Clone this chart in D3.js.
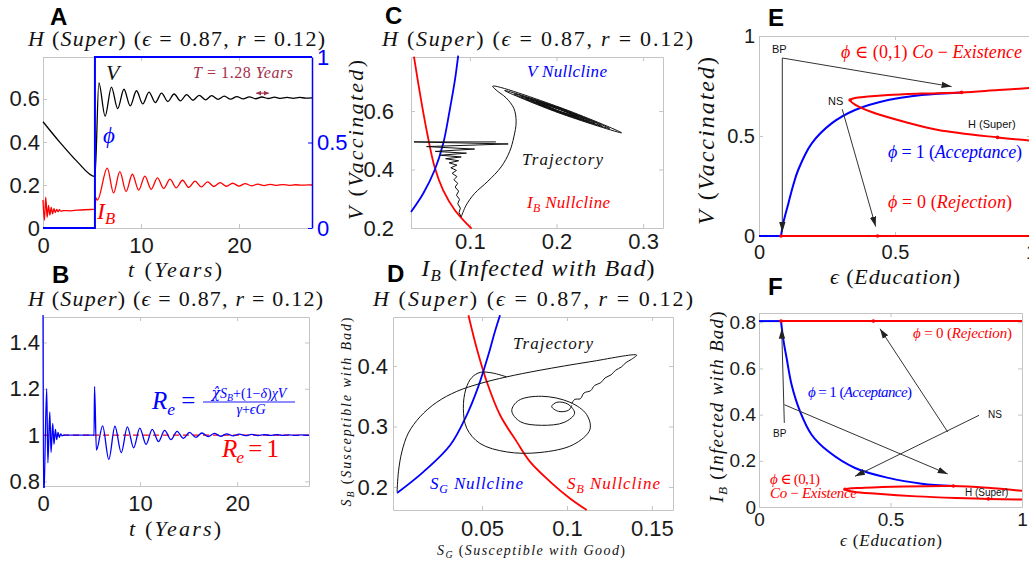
<!DOCTYPE html>
<html><head><meta charset="utf-8">
<script src="https://cdn.jsdelivr.net/npm/d3@7"></script>
<style>
body{margin:0;background:#fff;}
svg{display:block;}
text{white-space:pre;}
</style></head><body>
<script>
// ---------------- Panel A: time series (t in years) ----------------
const aTimeV = [0, 1.73, 3.44, 5.30, 5.70, 6.34, 6.98, 7.62, 8.26, 8.90, 9.54, 10.18, 10.82, 11.46, 12.10, 12.74, 13.38, 14.02, 14.66, 15.30, 15.94, 16.58, 17.22, 17.86, 18.50, 19.14, 19.78, 20.42, 21.06, 21.70, 22.34, 22.98, 23.62, 24.26, 24.90, 25.54, 26.18, 26.82, 27.45];
const aV = [0.494, 0.398, 0.311, 0.239, 0.675, 0.520, 0.655, 0.555, 0.645, 0.568, 0.638, 0.577, 0.632, 0.583, 0.627, 0.588, 0.623, 0.591, 0.620, 0.594, 0.617, 0.596, 0.615, 0.598, 0.613, 0.599, 0.611, 0.600, 0.610, 0.601, 0.609, 0.602, 0.608, 0.603, 0.607, 0.603, 0.607, 0.604, 0.605];
const aTimeIB = [0, 0.14, 0.28, 0.42, 0.56, 0.70, 0.84, 0.98, 1.12, 1.26, 1.40, 1.54, 1.68, 1.82, 2.10, 2.80, 3.50, 5.30, 5.40, 5.55, 6.56, 7.20, 7.84, 8.48, 9.12, 9.76, 10.40, 11.04, 11.68, 12.32, 12.96, 13.60, 14.24, 14.88, 15.52, 16.16, 16.80, 17.44, 18.08, 18.72, 19.36, 20.00, 20.64, 21.28, 21.92, 22.56, 23.20, 23.84, 24.48, 25.12, 25.76, 26.40, 27.04, 27.45];
const aIB = [0.130, 0.035, 0.144, 0.050, 0.105, 0.060, 0.096, 0.066, 0.090, 0.072, 0.087, 0.076, 0.085, 0.078, 0.081, 0.080, 0.083, 0.088, 0.140, 0.130, 0.278, 0.163, 0.262, 0.170, 0.250, 0.176, 0.241, 0.180, 0.233, 0.184, 0.227, 0.187, 0.222, 0.189, 0.218, 0.191, 0.214, 0.193, 0.211, 0.194, 0.208, 0.195, 0.206, 0.196, 0.204, 0.197, 0.203, 0.198, 0.202, 0.198, 0.201, 0.199, 0.2005, 0.200];
const aTimePhi = [0, 5.30, 5.30, 27.45];
const aPhi = [0, 0, 1, 1];
const aPeriodYears = 1.28;
const aTicksX = [0, 10, 20], aTicksY = [0, 0.2, 0.4, 0.6], aTicksPhi = [0, 0.5, 1];

// ---------------- Panel B: effective reproduction number ----------------
const bTime = [0, 0.06, 0.38, 0.50, 0.70, 0.83, 1.00, 1.13, 1.28, 1.41, 1.55, 1.68, 1.82, 1.95, 2.20, 5.26, 5.31, 5.50, 6.14, 6.78, 7.41, 8.06, 8.69, 9.34, 9.97, 10.62, 11.25, 11.90, 12.53, 13.18, 13.81, 14.46, 15.09, 15.74, 16.37, 17.02, 17.65, 18.30, 18.93, 19.58, 20.21, 20.86, 21.49, 22.14, 22.77, 23.42, 24.05, 24.70, 25.33, 25.98, 26.61, 27.26, 27.40];
const bRe = [1.60, 0.70, 1.20, 0.88, 1.10, 0.925, 1.05, 0.96, 1.025, 0.98, 1.012, 0.99, 1.005, 0.997, 1.0, 1.0, 1.21, 0.935, 1.040, 0.895, 1.038, 0.924, 1.035, 0.945, 1.030, 0.960, 1.025, 0.972, 1.020, 0.980, 1.016, 0.986, 1.012, 0.990, 1.009, 0.993, 1.007, 0.995, 1.005, 0.9965, 1.004, 0.9975, 1.003, 0.998, 1.002, 0.9985, 1.0015, 0.999, 1.001, 0.999, 1.001, 0.9993, 1.0];
const bThreshold = 1;
const bTicksX = [0, 10, 20], bTicksY = [0.8, 1, 1.2, 1.4];

// ---------------- Panel C: (I_B, V) phase plane ----------------
const cNullIB = [[0.0354,0.786],[0.0423,0.661],[0.0507,0.524],[0.0596,0.405],[0.0692,0.329],[0.0827,0.261],[0.1020,0.198]];
const cNullV = [[0.0320,0.255],[0.0461,0.318],[0.0596,0.400],[0.0692,0.489],[0.0765,0.600],[0.0827,0.706],[0.0865,0.790]];
const cTrajBefore = [[0.130,0.4945],[0.0354,0.4945],[0.1442,0.4875],[0.0500,0.4785],[0.1054,0.4700],[0.0600,0.4620],[0.0960,0.4560],[0.0660,0.4490],[0.0900,0.4430],[0.0720,0.4370],[0.0870,0.4300],[0.0760,0.4230],[0.0850,0.4150],[0.0780,0.4060],[0.0845,0.3970],[0.0795,0.3870],[0.0850,0.3760],[0.0815,0.3650],[0.0860,0.3530],[0.0830,0.3400],[0.0870,0.3260],[0.0845,0.3120],[0.0880,0.2980],[0.0860,0.2830],[0.0890,0.2680],[0.0875,0.2530],[0.0900,0.2380]];
const cTrajAfter = [[0.0900,0.238],[0.0957,0.278],[0.1054,0.318],[0.1208,0.360],[0.1361,0.409],[0.1458,0.461],[0.1508,0.512],[0.1534,0.563],[0.1508,0.609],[0.1419,0.645],[0.1303,0.672],[0.1263,0.6852],
  [0.2041,0.6124],[0.2751,0.5257],[0.2020,0.5945],[0.1401,0.6704],[0.2039,0.6106],[0.2613,0.5405],[0.2022,0.5960],[0.1508,0.6589],
  [0.2038,0.6094],[0.2521,0.5504],[0.2023,0.5971],[0.1585,0.6507],[0.2037,0.6084],[0.2444,0.5586],[0.2024,0.5980],[0.1646,0.6441],
  [0.2036,0.6076],[0.2383,0.5652],[0.2025,0.5987],[0.1708,0.6375],[0.2035,0.6069],[0.2321,0.5718],[0.2026,0.5995],[0.1769,0.6309],
  [0.2034,0.6061],[0.2260,0.5783],[0.2027,0.6002],[0.1815,0.6260],[0.2033,0.6056],[0.2229,0.5816],[0.2027,0.6006],[0.1846,0.6227]];
const cTicksX = [0.1, 0.2, 0.3], cTicksY = [0.2, 0.4, 0.6];

// ---------------- Panel D: (S_G, S_B) phase plane ----------------
const dNullSG = [[0.0,0.190],[0.0155,0.225],[0.0312,0.269],[0.0410,0.319],[0.0478,0.366],[0.0537,0.418],[0.0576,0.457],[0.0606,0.484]];
const dNullSB = [[0.0420,0.484],[0.0469,0.429],[0.0528,0.374],[0.0606,0.319],[0.0704,0.275],[0.0782,0.242],[0.0900,0.209],[0.1018,0.181],[0.1116,0.162]];
const dTrajRise = [[0.0,0.192],[0.0008,0.225],[0.0028,0.258],[0.0066,0.289],[0.0135,0.316],[0.0233,0.340],[0.0351,0.358],[0.0488,0.371],[0.0645,0.382],[0.0841,0.393],[0.1135,0.407],[0.1410,0.418],
  [0.13805,0.4112],[0.13477,0.4057],[0.13197,0.3983],[0.12862,0.3930],[0.12590,0.3853],[0.12245,0.3804],[0.11986,0.3723],[0.11627,0.3679],[0.11385,0.3591],[0.11005,0.3555],[0.10784,0.3459],[0.10456,0.3448],[0.1028,0.3380]];
const dTrajLoops = [[0.0645,0.382],[0.0560,0.3885],[0.0490,0.3895],[0.0440,0.381],[0.0405,0.362],[0.0390,0.330],[0.0410,0.297],[0.0488,0.272],[0.0645,0.258],[0.0841,0.257],[0.1037,0.270],[0.1135,0.295],[0.1115,0.320],[0.1018,0.340],[0.0850,0.350],[0.0715,0.343],[0.0675,0.326],[0.0725,0.308],[0.0850,0.302],[0.0985,0.307],[0.1045,0.322],[0.1005,0.337],[0.0940,0.340],[0.0910,0.333],[0.0950,0.325],[0.1010,0.327],[0.1028,0.335]];
const dTicksX = [0.05, 0.1, 0.15], dTicksY = [0.2, 0.3, 0.4];

// ---------------- Panel E: bifurcation diagram, V vs education ----------------
const eAcceptFlat = [[0,0],[0.081,0]];
const eAccept = [[0.081,0],[0.089,0.063],[0.108,0.163],[0.126,0.255],[0.144,0.330],[0.194,0.463],[0.267,0.563],[0.353,0.630],[0.475,0.680],[0.598,0.705],[0.745,0.718]];
const eReject = [[0.081,0],[1,0]];
const eCoexist = [[1.0,0.740],[0.88,0.730],[0.745,0.718],[0.598,0.712],[0.475,0.705],[0.400,0.697],[0.353,0.690],[0.335,0.680],[0.353,0.657],[0.414,0.620],[0.537,0.570],[0.659,0.530],[0.877,0.493],[1.0,0.477]];
const ePoints = [[0.081,0],[0.436,0],[0.745,0.718],[0.877,0.493],[0.335,0.680]];
const eTicks = [0, 0.5, 1];

// ---------------- Panel F: bifurcation diagram, I_B vs education ----------------
const fAcceptFlat = [[0,0.805],[0.0837,0.805]];
const fAccept = [[0.0837,0.805],[0.0925,0.725],[0.105,0.645],[0.124,0.529],[0.156,0.414],[0.200,0.313],[0.263,0.241],[0.365,0.169],[0.492,0.126],[0.619,0.101],[0.739,0.091]];
const fReject = [[0.0837,0.805],[1,0.805]];
const fCoexist = [[1.0,0.070],[0.87,0.083],[0.739,0.091],[0.55,0.089],[0.40,0.083],[0.327,0.077],[0.36,0.066],[0.45,0.057],[0.60,0.046],[0.75,0.039],[0.872,0.035],[1.0,0.032]];
const fPoints = [[0.0837,0.805],[0.435,0.805],[0.739,0.091],[0.872,0.035],[0.327,0.077]];
const fTicksX = [0, 0.5, 1], fTicksY = [0, 0.2, 0.4, 0.6, 0.8];

// ---------------- drawing ----------------
const SERIF = "'Liberation Serif','DejaVu Serif',serif";
const SANS = "'Liberation Sans',Arial,sans-serif";
const FRAME = "#c4c4c4";
const RED = "#ff0000", BLUE = "#0000ff", MAROON = "#a4304a";

const svg = d3.select("body").append("svg").attr("width", 1029).attr("height", 565);
const defs = svg.append("defs");
defs.append("marker").attr("id", "arrow").attr("viewBox", "0 0 10 10").attr("refX", 10).attr("refY", 5)
  .attr("markerWidth", 10).attr("markerHeight", 10).attr("markerUnits", "userSpaceOnUse").attr("orient", "auto")
  .append("path").attr("d", "M0,1.8 L10,5 L0,8.2 Z").attr("fill", "#222");
defs.append("marker").attr("id", "tick2").attr("viewBox", "0 0 10 10").attr("refX", 10).attr("refY", 5)
  .attr("markerWidth", 5).attr("markerHeight", 5).attr("markerUnits", "userSpaceOnUse").attr("orient", "auto-start-reverse")
  .append("path").attr("d", "M0,0 L10,5 L0,10 Z").attr("fill", MAROON);

// text with italic / upright / subscript runs
function rich(parent, x, y, parts, o) {
  const t = parent.append("text").attr("x", x).attr("y", y)
    .attr("font-family", o.font || SERIF).attr("font-size", o.size)
    .attr("fill", o.color || "#111").attr("text-anchor", o.anchor || "start");
  if (o.rotate) t.attr("transform", `rotate(${o.rotate},${x},${y})`);
  if (o.len) t.attr("textLength", o.len).attr("lengthAdjust", "spacing");
  let low = false;
  parts.forEach(([s, k, fam]) => {
    const ts = t.append("tspan").text(s);
    if (fam) ts.attr("font-family", fam);
    if (k === "i" || k === "s") ts.attr("font-style", "italic");
    if (k === "s") { ts.attr("font-size", o.size * 0.7).attr("dy", o.size * 0.22); low = true; }
    else if (low) { ts.attr("dy", -o.size * 0.22); low = false; }
  });
  return t;
}
function letter(x, y, s) {
  svg.append("text").attr("x", x).attr("y", y).attr("font-family", SANS).attr("font-weight", "bold")
    .attr("font-size", 24).attr("fill", "#000").text(s);
}
function panel(p) {
  const x = d3.scaleLinear().domain(p.xd).range([p.x0, p.x1]);
  const y = d3.scaleLinear().domain(p.yd).range([p.y1, p.y0]);
  const g = svg.append("g");
  const fmt = d3.format("~g");
  const style = sel => {
    sel.select(".domain").attr("stroke", FRAME);
    sel.selectAll(".tick line").attr("stroke", FRAME);
    sel.selectAll(".tick text").attr("font-size", p.fs).attr("font-family", SANS).attr("fill", "#1a1a1a");
  };
  g.append("g").attr("transform", `translate(0,${p.y1})`)
    .call(d3.axisBottom(x).tickValues(p.xt).tickSize(-4).tickSizeOuter(0).tickPadding(p.padB).tickFormat(fmt)).call(style);
  g.append("g").attr("transform", `translate(0,${p.y0})`)
    .call(d3.axisTop(x).tickValues(p.xt).tickSize(-4).tickSizeOuter(0).tickFormat("")).call(style);
  g.append("g").attr("transform", `translate(${p.x0},0)`)
    .call(d3.axisLeft(y).tickValues(p.yt).tickSize(-4).tickSizeOuter(0).tickPadding(p.padL).tickFormat(fmt)).call(style);
  if (!p.noRight)
    g.append("g").attr("transform", `translate(${p.x1},0)`)
      .call(d3.axisRight(y).tickValues(p.yt).tickSize(-4).tickSizeOuter(0).tickFormat("")).call(style);
  const id = "clip-" + p.id;
  defs.append("clipPath").attr("id", id).append("rect")
    .attr("x", p.x0 - 2).attr("y", p.y0 - 2).attr("width", p.x1 - p.x0 + 4).attr("height", p.y1 - p.y0 + 4);
  const plot = svg.append("g").attr("clip-path", `url(#${id})`);
  return { x, y, plot };
}
function draw(P, data, color, width, curve, dash) {
  const line = d3.line().x(d => P.x(d[0])).y(d => P.y(d[1])).curve(curve || d3.curveLinear);
  const path = P.plot.append("path").attr("d", line(data)).attr("fill", "none")
    .attr("stroke", color).attr("stroke-width", width).attr("stroke-linejoin", "round");
  if (dash) path.attr("stroke-dasharray", dash);
  return path;
}
function arrows(P, list) {
  list.forEach(seg => {
    svg.append("line").attr("x1", P.x(seg[0][0])).attr("y1", P.y(seg[0][1]))
      .attr("x2", P.x(seg[1][0])).attr("y2", P.y(seg[1][1]))
      .attr("stroke", "#333").attr("stroke-width", 1).attr("marker-end", "url(#arrow)");
  });
}
function dots(P, pts) {
  P.plot.selectAll(null).data(pts).enter().append("circle")
    .attr("cx", d => P.x(d[0])).attr("cy", d => P.y(d[1])).attr("r", 1.8).attr("fill", RED);
}
const titleParts = [["H", "i"], [" (", "n"], ["Super", "i"], [") (", "n"], ["ϵ", "i"], [" = 0.87, ", "n"], ["r", "i"], [" = 0.12)", "n"]];
const smooth = d3.curveCatmullRom.alpha(0.5);

// ----- A -----
const A = panel({ id: "A", xd: [0, 27.45], yd: [0, 0.795], x0: 43, x1: 312, y0: 57, y1: 228, xt: aTicksX, yt: aTicksY, fs: 22, padB: 9, padL: 3, noRight: true });
const aPhiScale = d3.scaleLinear().domain([0, 1]).range([228, 57]);
svg.append("g").attr("transform", "translate(312,0)")
  .call(d3.axisRight(aPhiScale).tickValues(aTicksPhi).tickSize(-4).tickSizeOuter(0).tickPadding(5).tickFormat(d3.format("~g")))
  .call(s => { s.select(".domain").attr("stroke", BLUE).attr("stroke-width", 1.5); s.selectAll(".tick line").attr("stroke", BLUE);
    s.selectAll(".tick text").attr("font-size", 22).attr("font-family", SANS).attr("fill", BLUE); });
draw(A, d3.zip(aTimeV, aV), "#000", 1.3, d3.curveMonotoneX);
draw(A, d3.zip(aTimeIB, aIB), RED, 1.3, d3.curveMonotoneX);
A.plot.append("path").attr("d", d3.line().x(d => A.x(d[0])).y(d => aPhiScale(d[1])).curve(d3.curveLinear)(d3.zip(aTimePhi, aPhi)))
  .attr("fill", "none").attr("stroke", BLUE).attr("stroke-width", 2);
// period marker
svg.append("line").attr("x1", A.x(22.4 - aPeriodYears / 2)).attr("x2", A.x(22.4 + aPeriodYears / 2))
  .attr("y1", A.y(0.627)).attr("y2", A.y(0.627)).attr("stroke", MAROON).attr("stroke-width", 1.2)
  .attr("marker-start", "url(#tick2)").attr("marker-end", "url(#tick2)");
rich(svg, 193, 78, [["T", "i"], [" = 1.28 ", "n"], ["Years", "i"]], { size: 16, color: MAROON, len: 100 });
rich(svg, 106, 80, [["V", "i"]], { size: 22 });
rich(svg, 103, 143, [["ϕ", "i"]], { size: 23, color: BLUE });
rich(svg, 97, 219, [["I", "i"], ["B", "s"]], { size: 24, color: RED });
rich(svg, 176.5, 46, titleParts, { size: 22, anchor: "middle", len: 297 });
rich(svg, 175, 277, [["t", "i"], [" (", "n"], ["Years", "i"], [")", "n"]], { size: 22, anchor: "middle", len: 94 });
letter(50, 25, "A");

// ----- B -----
const B = panel({ id: "B", xd: [0, 27.4], yd: [0.78, 1.51], x0: 43, x1: 309, y0: 317, y1: 486, xt: bTicksX, yt: bTicksY, fs: 22, padB: 9, padL: 3 });
draw(B, [[0, bThreshold], [27.4, bThreshold]], RED, 1.3, d3.curveLinear, "6,4");
draw(B, d3.zip(bTime, bRe), BLUE, 1.3, d3.curveMonotoneX);
rich(svg, 152, 409, [["R", "i"], ["e", "s"], [" = ", "n"]], { size: 25, color: BLUE });
rich(svg, 249, 398, [["χ̂", "i", "'DejaVu Serif'"], ["S", "i"], ["B", "s"], ["+(1−", "n"], ["δ", "i"], [")", "n"], ["χV", "i"]], { size: 14, color: BLUE, anchor: "middle" });
svg.append("line").attr("x1", 203).attr("x2", 295).attr("y1", 402).attr("y2", 402).attr("stroke", BLUE).attr("stroke-width", 0.9);
rich(svg, 251, 414, [["γ", "i"], ["+", "n"], ["ϵG", "i"]], { size: 14, color: BLUE, anchor: "middle" });
rich(svg, 222, 457, [["R", "i"], ["e", "s"], [" = 1", "n"]], { size: 25, color: RED, len: 57 });
rich(svg, 175.5, 306, titleParts, { size: 22, anchor: "middle", len: 295 });
rich(svg, 175, 536, [["t", "i"], [" (", "n"], ["Years", "i"], [")", "n"]], { size: 22, anchor: "middle", len: 92 });
letter(52, 283, "B");

// ----- C -----
const C = panel({ id: "C", xd: [0.032, 0.323], yd: [0.2, 0.785], x0: 411, x1: 663, y0: 57, y1: 228, xt: cTicksX, yt: cTicksY, fs: 22, padB: 5, padL: 17 });
draw(C, cNullIB, RED, 1.8, smooth);
draw(C, cNullV, BLUE, 1.8, smooth);
draw(C, cTrajBefore, "#111", 1, d3.curveLinear);
draw(C, cTrajAfter, "#111", 1, smooth);
rich(svg, 527, 77, [["V Nullcline", "i"]], { size: 17, color: BLUE, len: 80 });
rich(svg, 522, 165, [["Trajectory", "i"]], { size: 17, len: 81 });
rich(svg, 527, 208, [["I", "i"], ["B", "s"], [" Nullcline", "i"]], { size: 17, color: RED, len: 83 });
rich(svg, 537.5, 46, titleParts, { size: 22, anchor: "middle", len: 311 });
rich(svg, 538, 276, [["I", "i"], ["B", "s"], [" (", "n"], ["Infected with Bad", "i"], [")", "n"]], { size: 24, anchor: "middle", len: 233 });
rich(svg, 363, 140, [["V", "i"], [" (", "n"], ["Vaccinated", "i"], [")", "n"]], { size: 22, anchor: "middle", rotate: -90, len: 160 });
letter(385, 24, "C");

// ----- D -----
const D = panel({ id: "D", xd: [-0.0024, 0.1624], yd: [0.162, 0.481], x0: 393, x1: 673, y0: 317, y1: 510, xt: dTicksX, yt: dTicksY, fs: 22, padB: 10, padL: 5 });
draw(D, dNullSB, RED, 1.8, smooth);
draw(D, dNullSG, BLUE, 1.8, smooth);
draw(D, dTrajRise, "#111", 1, smooth);
draw(D, dTrajLoops, "#111", 1, smooth);
rich(svg, 513, 349, [["Trajectory", "i"]], { size: 17, len: 80 });
rich(svg, 430, 489, [["S", "i"], ["G", "s"], [" Nullcline", "i"]], { size: 17, color: BLUE, len: 93 });
rich(svg, 567, 489, [["S", "i"], ["B", "s"], [" Nullcline", "i"]], { size: 17, color: RED, len: 93 });
rich(svg, 533, 306, titleParts, { size: 22, anchor: "middle", len: 320 });
rich(svg, 531, 555, [["S", "i"], ["G", "s"], [" (", "n"], ["Susceptible with Good", "i"], [")", "n"]], { size: 14, anchor: "middle", len: 188 });
rich(svg, 351, 412, [["S", "i"], ["B", "s"], [" (", "n"], ["Susceptible with Bad", "i"], [")", "n"]], { size: 14, anchor: "middle", rotate: -90, len: 189 });
letter(387, 282, "D");

// ----- E -----
const E = panel({ id: "E", xd: [0, 1], yd: [0, 1], x0: 759, x1: 1031, y0: 36, y1: 236, xt: eTicks, yt: eTicks, fs: 20, padB: 9, padL: 4 });
draw(E, eAcceptFlat, BLUE, 2);
draw(E, eReject, RED, 2);
draw(E, eAccept, BLUE, 2, smooth);
draw(E, eCoexist, RED, 2, smooth);
dots(E, ePoints);
arrows(E, [[[0.0857, 0.89], [0.0857, 0.02]], [[0.0857, 0.89], [0.708, 0.747]], [[0.306, 0.634], [0.429, 0.047]]]);
rich(svg, 772, 53, [["BP", "n"]], { size: 11, font: SANS });
rich(svg, 828, 105, [["NS", "n"]], { size: 11, font: SANS });
rich(svg, 968, 128, [["H (Super)", "n"]], { size: 11, font: SANS });
rich(svg, 841, 58, [["ϕ", "i"], [" ∈ (0,1) ", "n"], ["Co", "i"], [" − ", "n"], ["Existence", "i"]], { size: 18, color: RED, len: 181 });
rich(svg, 888, 158, [["ϕ", "i"], [" = 1 (", "n"], ["Acceptance", "i"], [")", "n"]], { size: 18, color: BLUE, len: 134 });
rich(svg, 888, 208, [["ϕ", "i"], [" = 0 (", "n"], ["Rejection", "i"], [")", "n"]], { size: 18, color: RED, len: 124 });
rich(svg, 895, 284, [["ϵ", "i"], [" (", "n"], ["Education", "i"], [")", "n"]], { size: 22, anchor: "middle", len: 130 });
rich(svg, 714, 141, [["V", "i"], [" (", "n"], ["Vaccinated", "i"], [")", "n"]], { size: 24, anchor: "middle", rotate: -90, len: 168 });
letter(768, 26, "E");

// ----- F -----
const F = panel({ id: "F", xd: [0, 1], yd: [0, 0.84], x0: 759, x1: 1022, y0: 313, y1: 507, xt: fTicksX, yt: fTicksY, fs: 19, padB: 6, padL: 3 });
draw(F, fAcceptFlat, BLUE, 2);
draw(F, fReject, RED, 2);
draw(F, fAccept, BLUE, 2, smooth);
draw(F, fCoexist, RED, 2, smooth);
dots(F, fPoints);
arrows(F, [[[0.0962, 0.364], [0.0863, 0.772]], [[0.0962, 0.443], [0.7175, 0.143]], [[0.8365, 0.397], [0.365, 0.133]], [[0.7175, 0.325], [0.46, 0.772]]]);
rich(svg, 773, 437, [["BP", "n"]], { size: 10, font: SANS });
rich(svg, 988, 418, [["NS", "n"]], { size: 10, font: SANS });
rich(svg, 965, 496, [["H (Super)", "n"]], { size: 10, font: SANS });
rich(svg, 913, 338, [["ϕ", "i"], [" = 0 (", "n"], ["Rejection", "i"], [")", "n"]], { size: 15, color: RED, len: 99 });
rich(svg, 808, 397, [["ϕ", "i"], [" = 1 (", "n"], ["Acceptance", "i"], [")", "n"]], { size: 15, color: BLUE, len: 104 });
rich(svg, 770, 484, [["ϕ", "i"], [" ∈ (0,1)", "n"]], { size: 15, color: RED, len: 50 });
rich(svg, 770, 498, [["Co", "i"], [" − ", "n"], ["Existence", "i"]], { size: 15, color: RED, len: 87 });
rich(svg, 891, 546, [["ϵ", "i"], [" (", "n"], ["Education", "i"], [")", "n"]], { size: 17, anchor: "middle", len: 102 });
rich(svg, 723, 407, [["I", "i"], ["B", "s"], [" (", "n"], ["Infected with Bad", "i"], [")", "n"]], { size: 19, anchor: "middle", rotate: -90, len: 191 });
letter(768, 295, "F");
</script></body></html>
